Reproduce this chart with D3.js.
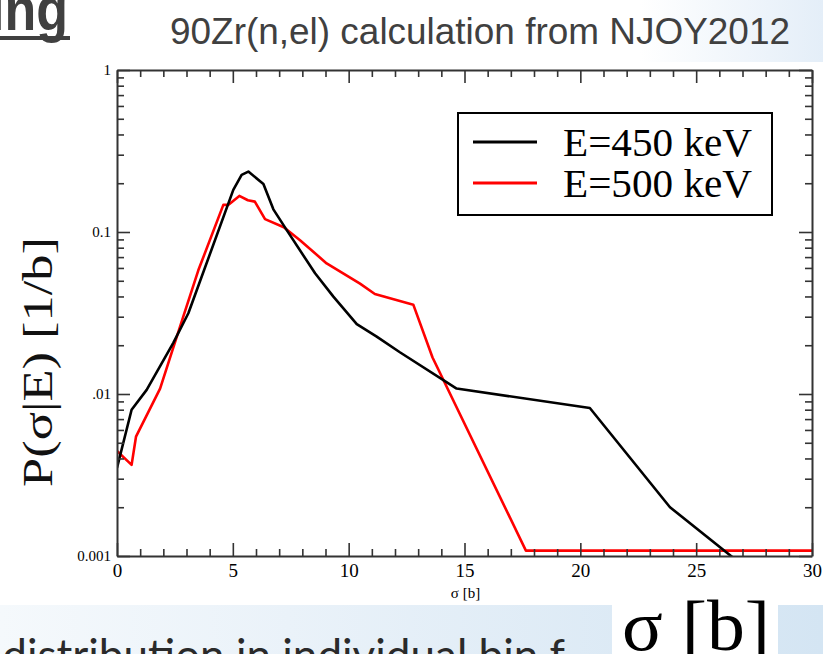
<!DOCTYPE html>
<html>
<head>
<meta charset="utf-8">
<script src="https://cdn.jsdelivr.net/npm/d3@7/dist/d3.min.js"></script>
<style>
  html, body { margin: 0; padding: 0; background: #ffffff; overflow: hidden; }
  svg { display: block; }
</style>
</head>
<body>
<svg id="chart" width="823" height="654"></svg>
<script>
// ---------------- data ----------------
const seriesNames = ["E=450 keV", "E=500 keV"];
const seriesColors = ["#000000", "#ff0000"];

const sigma450 = [0, 0.63, 1.28, 2.43, 3.08, 5.02, 5.38, 5.67, 6.32, 6.75, 7.32, 8.55, 9.34, 10.35, 11.21, 12.21, 14.66, 20.41, 23.87, 26.62];
const prob450  = [0.0035, 0.0080, 0.0106, 0.0207, 0.0315, 0.182, 0.225, 0.236, 0.198, 0.138, 0.103, 0.0556, 0.0399, 0.027, 0.0226, 0.0181, 0.0108, 0.0082, 0.0020, 0.00097];

const sigma500 = [0, 0.63, 0.82, 1.86, 2.86, 3.51, 4.59, 4.80, 5.28, 5.65, 5.95, 6.39, 7.20, 7.90, 9.05, 10.49, 11.13, 12.79, 13.62, 17.65, 30];
const prob500  = [0.00445, 0.00365, 0.00545, 0.0108, 0.030, 0.058, 0.147, 0.147, 0.167, 0.157, 0.154, 0.120, 0.107, 0.089, 0.064, 0.048, 0.0414, 0.0356, 0.0168, 0.00108, 0.00108];

const xMajorTicks = [0, 5, 10, 15, 20, 25, 30];
const yMajorTicks = [1, 0.1, 0.01, 0.001];
const yTickLabels = ["1", "0.1", ".01", "0.001"];

const titleText = "90Zr(n,el) calculation from NJOY2012";
const headingText = "Binning";
const xAxisTitle = "σ [b]";
const yAxisTitle = "P(σ|E) [1/b]";
const bigSymbolText = "σ [b]";
const bottomText = "Sampled distribution in individual bin f";

// ---------------- layout ----------------
const W = 823, H = 654;
const plot = { left: 117, right: 812, top: 70, bottom: 556 };

const svg = d3.select("#chart");
const defs = svg.append("defs");

// background decorations (slide)
const gBand = defs.append("linearGradient").attr("id", "band").attr("x1", "0").attr("x2", "1").attr("y1", "0").attr("y2", "0");
gBand.append("stop").attr("offset", "0").attr("stop-color", "#f5f9fc");
gBand.append("stop").attr("offset", "0.35").attr("stop-color", "#eaf2f9");
gBand.append("stop").attr("offset", "1").attr("stop-color", "#d4e5f3");
const gTop = defs.append("linearGradient").attr("id", "topg").attr("x1", "0").attr("x2", "1").attr("y1", "0").attr("y2", "0");
gTop.append("stop").attr("offset", "0").attr("stop-color", "#ffffff");
gTop.append("stop").attr("offset", "1").attr("stop-color", "#e4eef8");

svg.append("rect").attr("x", 0).attr("y", 0).attr("width", W).attr("height", H).attr("fill", "#ffffff");
svg.append("rect").attr("x", 640).attr("y", 0).attr("width", W - 640).attr("height", 62).attr("fill", "url(#topg)");
svg.append("rect").attr("x", 0).attr("y", 605).attr("width", W).attr("height", H - 605).attr("fill", "url(#band)");

// bottom partially visible text (cut by the window edge as in the slide)
svg.append("text")
  .attr("x", 565).attr("y", 671)
  .attr("text-anchor", "end")
  .attr("font-family", "Lato, 'Open Sans', sans-serif")
  .attr("font-size", 44)
  .attr("fill", "#2a2a2a")
  .text(bottomText);

// white box with large symbol
svg.append("rect").attr("x", 612).attr("y", 598).attr("width", 166).attr("height", 56).attr("fill", "#ffffff");
svg.append("text")
  .attr("x", 622).attr("y", 650)
  .attr("font-family", "'Liberation Serif', 'Times New Roman', serif")
  .attr("font-size", 72)
  .attr("fill", "#000")
  .attr("textLength", 148).attr("lengthAdjust", "spacingAndGlyphs")
  .text(bigSymbolText);

// heading fragment top-left (vertically stretched like the slide)
svg.append("text")
  .attr("transform", "translate(68,30) scale(1,1.18)")
  .attr("text-anchor", "end")
  .attr("font-family", "'Liberation Sans', Arial, sans-serif")
  .attr("font-weight", "bold")
  .attr("font-size", 52)
  .attr("fill", "#404040")
  .text(headingText);
svg.append("rect").attr("x", 0).attr("y", 36).attr("width", 70).attr("height", 4).attr("fill", "#404040");

// title
svg.append("text")
  .attr("transform", "translate(170,44) scale(1,1.1)")
  .attr("font-family", "'Liberation Sans', Arial, sans-serif")
  .attr("font-size", 33)
  .attr("fill", "#404040")
  .attr("textLength", 620).attr("lengthAdjust", "spacingAndGlyphs")
  .text(titleText);

// ---------------- scales ----------------
const x = d3.scaleLinear().domain([0, 30]).range([plot.left, plot.right]);
const y = d3.scaleLog().domain([0.001, 1]).range([plot.bottom, plot.top]);

// plot background
svg.append("rect")
  .attr("x", plot.left).attr("y", plot.top)
  .attr("width", plot.right - plot.left).attr("height", plot.bottom - plot.top)
  .attr("fill", "#ffffff");

// clip
defs.append("clipPath").attr("id", "clip")
  .append("rect")
  .attr("x", plot.left).attr("y", plot.top)
  .attr("width", plot.right - plot.left).attr("height", plot.bottom - plot.top);

// ---------------- data lines ----------------
const line = d3.line().x(d => x(d[0])).y(d => y(d[1]));
const series = [
  d3.zip(sigma450, prob450),
  d3.zip(sigma500, prob500)
];
const gLines = svg.append("g").attr("clip-path", "url(#clip)");
[1, 0].forEach(i => {
  gLines.append("path")
    .datum(series[i])
    .attr("fill", "none")
    .attr("stroke", seriesColors[i])
    .attr("stroke-width", 2.6)
    .attr("stroke-linejoin", "round")
    .attr("d", line);
});

// ---------------- axes ----------------
const xMinor = d3.range(0, 31, 1).filter(v => v % 5 !== 0);
const yMinor = [];
[0.001, 0.01, 0.1].forEach(dec => { for (let k = 2; k <= 9; k++) yMinor.push(dec * k); });

const axisColor = "#333333";
const majorLen = 13, minorLen = 7;

function styleAxis(g) {
  g.select(".domain").attr("stroke", axisColor).attr("stroke-width", 2);
  g.selectAll(".tick line").attr("stroke", axisColor).attr("stroke-width", 1.6);
}
function styleMinor(g) {
  g.select(".domain").remove();
  g.selectAll(".tick line").attr("stroke", axisColor).attr("stroke-width", 1.6);
}

// bottom
const gxB = svg.append("g").attr("transform", `translate(0,${plot.bottom})`)
  .call(d3.axisBottom(x).tickValues(xMajorTicks).tickSizeInner(-majorLen).tickSizeOuter(0).tickPadding(4).tickFormat(d3.format("d")));
styleAxis(gxB);
gxB.selectAll(".tick text")
  .attr("font-family", "'Liberation Serif', 'Times New Roman', serif")
  .attr("font-size", 19).attr("fill", "#000").attr("dy", "0.9em");
svg.append("g").attr("transform", `translate(0,${plot.bottom})`)
  .call(d3.axisBottom(x).tickValues(xMinor).tickSizeInner(-minorLen).tickSizeOuter(0).tickFormat(""))
  .call(styleMinor);

// top
const gxT = svg.append("g").attr("transform", `translate(0,${plot.top})`)
  .call(d3.axisTop(x).tickValues(xMajorTicks).tickSizeInner(-majorLen).tickSizeOuter(0).tickFormat(""));
styleAxis(gxT);
svg.append("g").attr("transform", `translate(0,${plot.top})`)
  .call(d3.axisTop(x).tickValues(xMinor).tickSizeInner(-minorLen).tickSizeOuter(0).tickFormat(""))
  .call(styleMinor);

// left
const gyL = svg.append("g").attr("transform", `translate(${plot.left},0)`)
  .call(d3.axisLeft(y).tickValues(yMajorTicks).tickSizeInner(-majorLen).tickSizeOuter(0).tickPadding(6)
    .tickFormat((d, i) => yTickLabels[i]));
styleAxis(gyL);
gyL.selectAll(".tick text")
  .attr("font-family", "'Liberation Serif', 'Times New Roman', serif")
  .attr("font-size", 15).attr("fill", "#000");
svg.append("g").attr("transform", `translate(${plot.left},0)`)
  .call(d3.axisLeft(y).tickValues(yMinor).tickSizeInner(-minorLen).tickSizeOuter(0).tickFormat(""))
  .call(styleMinor);

// right
const gyR = svg.append("g").attr("transform", `translate(${plot.right},0)`)
  .call(d3.axisRight(y).tickValues(yMajorTicks).tickSizeInner(-majorLen).tickSizeOuter(0).tickFormat(""));
styleAxis(gyR);
svg.append("g").attr("transform", `translate(${plot.right},0)`)
  .call(d3.axisRight(y).tickValues(yMinor).tickSizeInner(-minorLen).tickSizeOuter(0).tickFormat(""))
  .call(styleMinor);

// axis titles
svg.append("text")
  .attr("x", (plot.left + plot.right) / 2 + 1).attr("y", 598)
  .attr("text-anchor", "middle")
  .attr("font-family", "'Liberation Serif', 'Times New Roman', serif")
  .attr("font-size", 15).attr("fill", "#000")
  .text(xAxisTitle);

svg.append("text")
  .attr("transform", `translate(52,362) rotate(-90)`)
  .attr("text-anchor", "middle")
  .attr("font-family", "'Liberation Serif', 'Times New Roman', serif")
  .attr("font-size", 42).attr("fill", "#111")
  .attr("textLength", 250).attr("lengthAdjust", "spacingAndGlyphs")
  .text(yAxisTitle);

// ---------------- legend ----------------
const lg = svg.append("g");
lg.append("rect")
  .attr("x", 458).attr("y", 113).attr("width", 314).attr("height", 102)
  .attr("fill", "#ffffff").attr("stroke", "#000").attr("stroke-width", 2);
seriesNames.forEach((name, i) => {
  const yy = 142 + i * 41;
  lg.append("line")
    .attr("x1", 473).attr("x2", 537).attr("y1", yy).attr("y2", yy)
    .attr("stroke", seriesColors[i]).attr("stroke-width", 3);
  lg.append("text")
    .attr("x", 563).attr("y", yy + 14)
    .attr("font-family", "'Liberation Serif', 'Times New Roman', serif")
    .attr("font-size", 40).attr("fill", "#000")
    .attr("textLength", 189).attr("lengthAdjust", "spacingAndGlyphs")
    .text(name);
});
</script>
</body>
</html>
